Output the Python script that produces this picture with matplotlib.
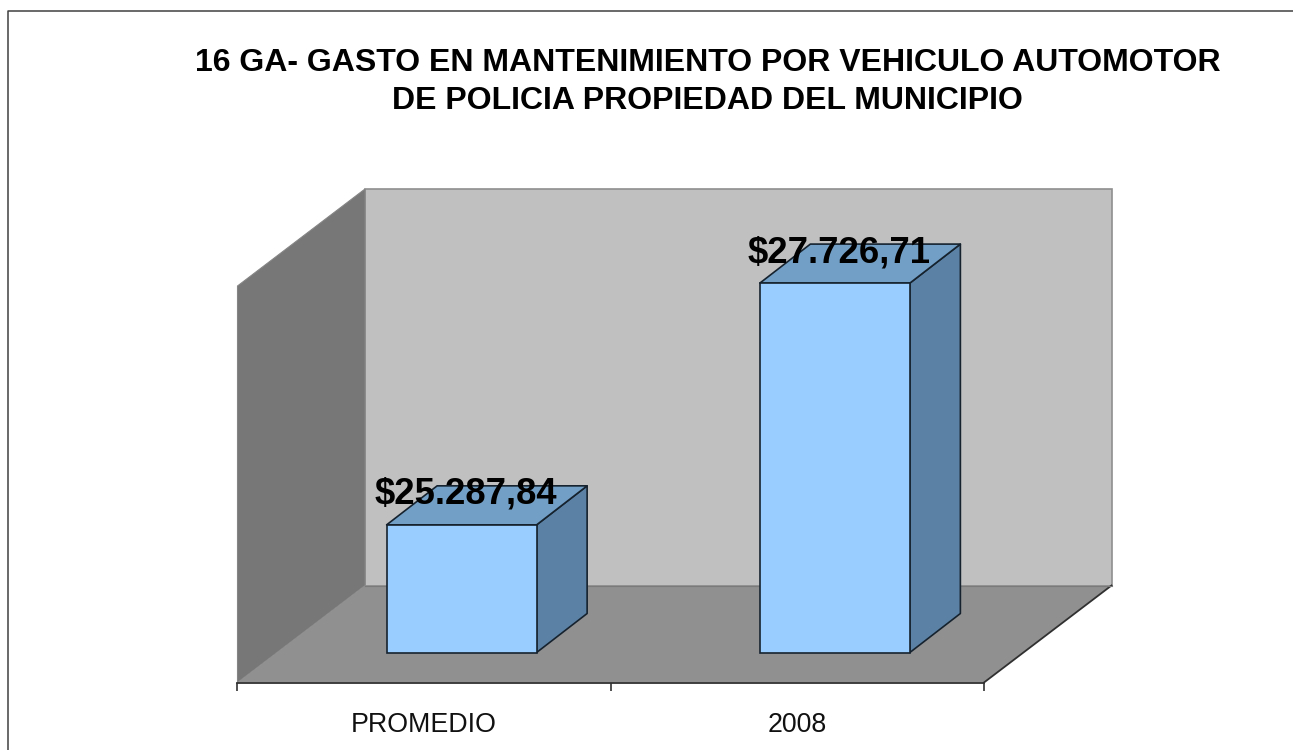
import matplotlib
matplotlib.use("Agg")
import matplotlib.pyplot as plt
from matplotlib.patches import Polygon
from matplotlib.lines import Line2D

plt.rcParams['font.family'] = ['Liberation Sans', 'DejaVu Sans']

categories = ["PROMEDIO", "2008"]
values = [25287.84, 27726.71]
value_labels = ["$25.287,84", "$27.726,71"]
title = "16 GA- GASTO EN MANTENIMIENTO POR VEHICULO AUTOMOTOR\nDE POLICIA PROPIEDAD DEL MUNICIPIO"
y_min, y_max = 24000, 28000

W, H = 1293, 750
fig = plt.figure(figsize=(W / 100, H / 100), dpi=100, facecolor="white")
left, right, top, bottom = 237.5, 984.0, 286.0, 682.5
ax = fig.add_axes([left / W, 1 - bottom / H, (right - left) / W, (bottom - top) / H])
ax.set_xlim(-0.5, 1.5)
ax.set_ylim(y_min, y_max)
ax.patch.set_visible(False)

px_x = 2 / (right - left)
px_y = (y_max - y_min) / (bottom - top)

wall_dx, wall_dy = 127.5 * px_x, 97 * px_y
bar_off_x, bar_off_y = 37.5 * px_x, 30 * px_y
bar_dx, bar_dy = 50.5 * px_x, 39 * px_y
bar_w = 150 * px_x

x0, x1 = -0.5, 1.5
poly = lambda pts, **k: ax.add_patch(Polygon(pts, closed=True, clip_on=False, **k))

# back wall, side wall, floor
poly([(x0 + wall_dx, y_min + wall_dy), (x1 + wall_dx, y_min + wall_dy),
      (x1 + wall_dx, y_max + wall_dy), (x0 + wall_dx, y_max + wall_dy)],
     facecolor="#C0C0C0", edgecolor="#8F8F8F", linewidth=1.2, zorder=1)
poly([(x0, y_min), (x0 + wall_dx, y_min + wall_dy),
      (x0 + wall_dx, y_max + wall_dy), (x0, y_max)],
     facecolor="#777777", edgecolor="#858585", linewidth=0.8, zorder=1.1)
poly([(x0, y_min), (x1, y_min), (x1 + wall_dx, y_min + wall_dy), (x0 + wall_dx, y_min + wall_dy)],
     facecolor="#909090", edgecolor="none", zorder=1.2)
ax.add_line(Line2D([x1, x1 + wall_dx], [y_min, y_min + wall_dy], color="#303030", lw=1.3,
                   clip_on=False, zorder=1.3))
ax.add_line(Line2D([x0 + wall_dx, x1 + wall_dx], [y_min + wall_dy] * 2, color="#7A7A7A", lw=0.8,
                   clip_on=False, zorder=1.3))

# bars
edge = "#16232F"
for i, (v, lab) in enumerate(zip(values, value_labels)):
    xc = i + bar_off_x
    xl, xr = xc - bar_w / 2, xc + bar_w / 2
    yb, yt = y_min + bar_off_y, v + bar_off_y
    poly([(xr, yb), (xr + bar_dx, yb + bar_dy), (xr + bar_dx, yt + bar_dy), (xr, yt)],
         facecolor="#5B82A5", edgecolor=edge, linewidth=1.2, joinstyle="round", zorder=2)
    poly([(xl, yt), (xr, yt), (xr + bar_dx, yt + bar_dy), (xl + bar_dx, yt + bar_dy)],
         facecolor="#729FC6", edgecolor=edge, linewidth=1.2, joinstyle="round", zorder=2)
    ax.bar(xc, v - y_min, width=bar_w, bottom=yb, color="#99CCFF", edgecolor=edge,
           linewidth=1.2, clip_on=False, zorder=3)
    ax.annotate(lab, xy=(xc, yt), xytext=(3, 22), textcoords="offset points",
                ha="center", va="center", fontsize=26.3, fontweight="bold",
                color="black", annotation_clip=False, zorder=5)

# axis
for s in ("left", "right", "top"):
    ax.spines[s].set_visible(False)
ax.spines["bottom"].set_color("#303030")
ax.spines["bottom"].set_linewidth(1.3)
ax.yaxis.set_visible(False)
ax.set_xticks([-0.5, 0.5, 1.5])
ax.set_xticklabels([])
ax.tick_params(axis="x", which="major", length=6, width=1.1, color="#202020")
ax.set_xticks([0, 1], minor=True)
ax.set_xticklabels(categories, minor=True, fontsize=19.3, color="#111111")
ax.tick_params(axis="x", which="minor", length=0, pad=21)

# title and outer frame
fig.text(707.5 / W, 1 - 82 / H, title, ha="center", va="center", fontsize=23,
         fontweight="bold", color="black", linespacing=1.34)
fig.add_artist(Line2D([7.5 / W, 7.5 / W, 1], [0, 1 - 10.5 / H, 1 - 10.5 / H],
                      color="#404040", lw=1.1))

fig.savefig("out.png", dpi=100, facecolor="white")
